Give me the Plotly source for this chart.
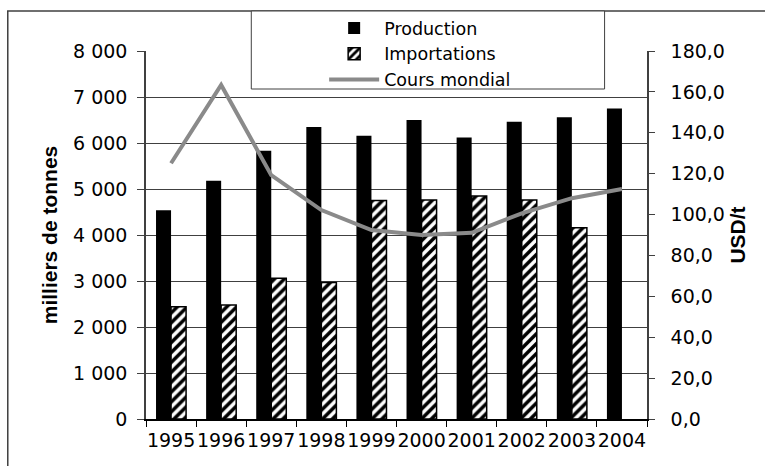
import plotly.graph_objects as go

years = ['1995', '1996', '1997', '1998', '1999', '2000', '2001', '2002', '2003', '2004']
production = [4540, 5180, 5830, 6350, 6160, 6500, 6120, 6460, 6560, 6750]
importations = [2440, 2480, 3060, 2970, 4750, 4760, 4850, 4760, 4160, None]
cours_mondial = [125.1, 163.4, 119.3, 102.2, 92.4, 90.0, 91.1, 100.6, 108.0, 112.5]

FONT = 'DejaVu Sans, sans-serif'
TITLE_FONT = 'Liberation Sans, Arial, sans-serif'

# plot area in pixels: x 145.5 -> 647.5, y 51 -> 419
L, R, T, B = 145.5, 647.5, 51, 419
def px(x):
    return (x - L) / (R - L)
def py(y):
    return (B - y) / (B - T)

fig = go.Figure()
fig.add_trace(go.Bar(x=years, y=production, name='Production',
                     marker=dict(color='black', line=dict(width=0))))
fig.add_trace(go.Bar(x=years, y=importations, name='Importations',
                     marker=dict(color='white',
                                 line=dict(color='black', width=1.5),
                                 pattern=dict(shape='/', fgcolor='black', bgcolor='white',
                                              size=7, solidity=0.5, fillmode='replace'))))
fig.add_trace(go.Scatter(x=years, y=cours_mondial, name='Cours mondial', yaxis='y2',
                         mode='lines', line=dict(color='#8a8a8a', width=4)))

# outer frame of the chart
fig.add_shape(type='rect', xref='paper', yref='paper',
              x0=px(7), x1=px(900), y0=py(600), y1=py(11),
              line=dict(color='#404040', width=1.5), layer='below')
# legend box
fig.add_shape(type='rect', xref='paper', yref='paper',
              x0=px(251), x1=px(605), y0=py(89), y1=py(11),
              line=dict(color='#404040', width=1), fillcolor='white', layer='above')

fig.update_layout(
    width=765, height=466,
    margin=dict(l=L, r=765 - R, t=T, b=466 - B, autoexpand=False),
    paper_bgcolor='white', plot_bgcolor='white',
    font=dict(family=FONT, size=19, color='black'),
    separators=', ',
    barmode='group', bargap=0.4, bargroupgap=0,
    showlegend=True,
    legend=dict(x=px(324), y=py(10), xanchor='left', yanchor='top',
                bgcolor='rgba(0,0,0,0)', borderwidth=0,
                font=dict(size=17.5), itemwidth=50, tracegroupgap=0),
    xaxis=dict(type='category', showline=True, linecolor='black', linewidth=1.5,
               ticks='outside', tickson='boundaries', ticklen=6, tickcolor='black',
               tickangle=0, ticklabelstandoff=3, showgrid=False, automargin=False),
    yaxis=dict(range=[0, 8000], dtick=1000, tickformat=',d',
               showline=True, linecolor='#404040', linewidth=1.5,
               ticks='outside', ticklen=7, tickcolor='#404040',
               showgrid=True, gridcolor='#404040', gridwidth=1,
               zeroline=False, ticklabelstandoff=6, automargin=False,
               title=dict(text='<b>milliers de tonnes</b>', standoff=10,
                          font=dict(family=TITLE_FONT, size=21))),
    yaxis2=dict(range=[0, 180], dtick=20, tickformat='.1f', overlaying='y', side='right',
                showline=True, linecolor='#404040', linewidth=1.5,
                ticks='outside', ticklen=6, tickcolor='#404040',
                showgrid=False, zeroline=False, ticklabelstandoff=12, automargin=False,
                title=dict(text='<b>USD/t</b>', standoff=6,
                           font=dict(family=TITLE_FONT, size=21))),
)

fig.write_html('out.html', config={'displayModeBar': False},
               post_script="document.body.style.margin='0';")
